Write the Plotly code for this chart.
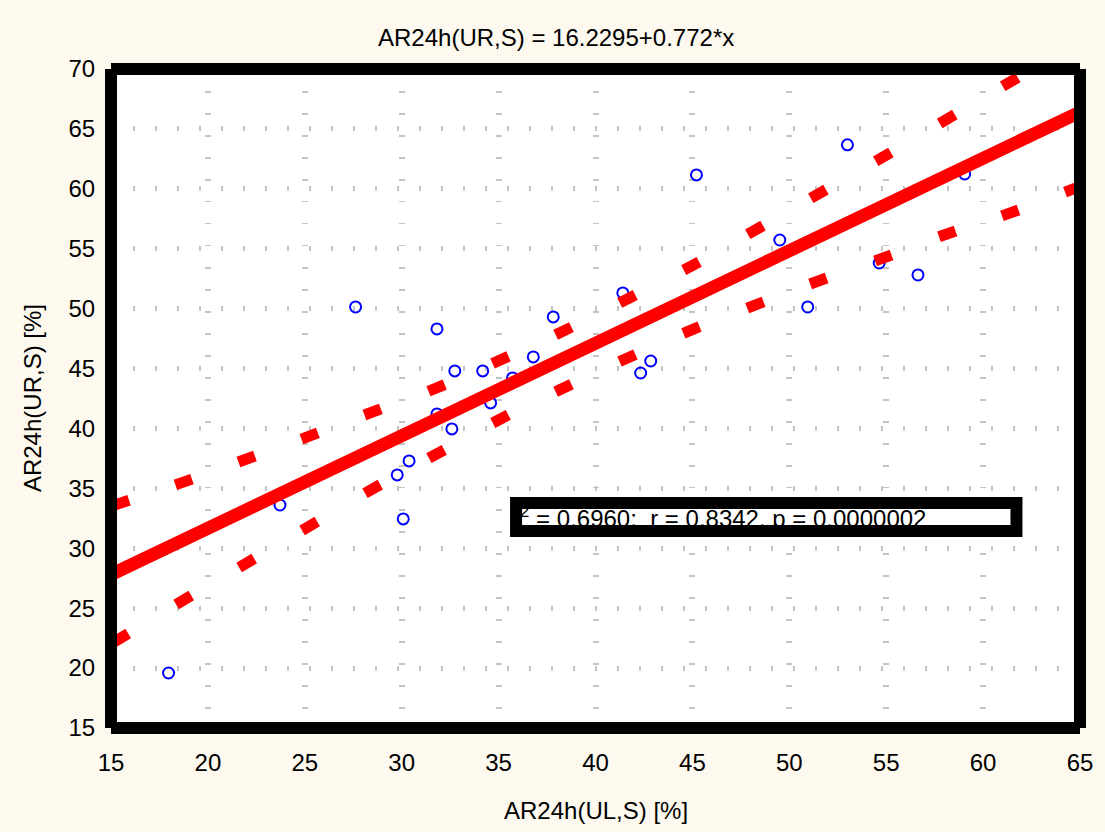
import numpy as np
import plotly.graph_objects as go

# Observations: AR24h(UL,S) vs AR24h(UR,S), in %
ul_s = [17.97, 23.72, 27.62, 29.77, 30.08, 30.38, 31.82, 31.82, 32.59, 32.74,
        34.18, 34.59, 35.72, 36.79, 37.82, 41.41, 42.33, 42.85, 45.21, 49.51,
        50.95, 53.00, 54.64, 56.64, 59.05]
ur_s = [19.59, 33.61, 50.14, 36.12, 32.45, 37.29, 48.31, 41.21, 39.96, 44.80,
        44.80, 42.13, 44.22, 45.97, 49.31, 51.31, 44.63, 45.63, 61.16, 55.73,
        50.14, 63.67, 53.81, 52.81, 61.24]

# Fitted line
intercept = 16.2295
slope = 0.772

# 95% confidence band of the fit
band_x = [15.5, 18.75, 22.0, 25.25, 28.5, 31.8, 35.1, 38.35, 41.65, 44.95,
          48.25, 51.5, 54.85, 58.15, 61.4, 64.65]
band_upper = [33.78, 35.53, 37.45, 39.37, 41.38, 43.38, 45.72, 48.14, 50.81,
              53.56, 56.57, 59.57, 62.66, 65.83, 68.92]
band_lower = [22.51, 25.68, 28.77, 31.86, 34.95, 37.87, 40.79, 43.38, 45.88,
              48.22, 50.31, 52.31, 54.23, 56.24, 57.99, 59.99]

x_ticks = list(range(15, 70, 5))
y_ticks = list(range(15, 75, 5))

stats_text = "r<sup>2</sup> = 0.6960;  r = 0.8342, p = 0.0000002"
title_text = "AR24h(UR,S) = 16.2295+0.772*x"
x_title = "AR24h(UL,S) [%]"
y_title = "AR24h(UR,S) [%]"

FONT = "Arial, Liberation Sans, sans-serif"
FS = 24
RED = "#FF0000"
BLUE = "#0000FF"
BG = "#FDF9EE"

W, H = 1105, 832
ML, MR, MT, MB = 111, 18, 69, 104
X_RANGE = [15, 65]
Y_RANGE = [15, 70]
px_per_x = (W - ML - MR) / (X_RANGE[1] - X_RANGE[0])
px_per_y = (H - MT - MB) / (Y_RANGE[1] - Y_RANGE[0])


def to_x(px):
    return X_RANGE[0] + (px - ML) / px_per_x


def to_y(py):
    return Y_RANGE[0] + (H - MB - py) / px_per_y


def dash_angles(xs, ys):
    """Screen-space orientation of each band dash, following the curve."""
    xs = np.asarray(xs[:len(ys)], float)
    ys = np.asarray(ys, float)
    g = np.gradient(ys, xs)
    return list(-np.degrees(np.arctan(g * px_per_y / px_per_x)))


fig = go.Figure()

fig.add_trace(go.Scatter(
    x=ul_s, y=ur_s, mode="markers",
    marker=dict(symbol="circle-open", size=11, color=BLUE,
                line=dict(width=2, color=BLUE)),
    showlegend=False, hoverinfo="skip"))

for ys in (band_upper, band_lower):
    fig.add_trace(go.Scatter(
        x=band_x[:len(ys)], y=ys, mode="markers",
        marker=dict(symbol="line-ew", size=12.5, color=RED,
                    angle=dash_angles(band_x, ys),
                    line=dict(width=11, color=RED)),
        showlegend=False, hoverinfo="skip"))

fit_x = np.array(X_RANGE, float)
fig.add_trace(go.Scatter(
    x=fit_x, y=intercept + slope * fit_x, mode="lines",
    line=dict(color=RED, width=13),
    showlegend=False, hoverinfo="skip"))

# statistics label inside its framed box
box_x0, box_x1 = to_x(519), to_x(1023)
box_y0, box_y1 = to_y(531), to_y(503)
fig.add_trace(go.Scatter(
    x=[to_x(515)], y=[to_y(521)],
    mode="text", text=[stats_text], textposition="middle right",
    textfont=dict(family=FONT, size=FS, color="black"),
    showlegend=False, hoverinfo="skip"))

shapes = [
    dict(type="rect", xref="x", yref="y", x0=box_x0, x1=box_x1,
         y0=box_y0, y1=box_y1, fillcolor="white",
         line=dict(width=0), layer="between"),
    dict(type="rect", xref="x", yref="y", x0=box_x0, x1=box_x1,
         y0=box_y0, y1=box_y1, fillcolor="rgba(0,0,0,0)",
         line=dict(width=12, color="black"), layer="above"),
]
# heavy plot frame
for (x0, y0, x1, y1) in [(0, 0, 1, 0), (0, 1, 1, 1), (0, 0, 0, 1), (1, 0, 1, 1)]:
    shapes.append(dict(type="line", xref="paper", yref="paper",
                       x0=x0, y0=y0, x1=x1, y1=y1,
                       line=dict(color="black", width=12), layer="above"))

grid_common = dict(showgrid=True, gridcolor="#C4C4C4", zeroline=False,
                   showline=False, ticks="outside",
                   tickcolor="rgba(0,0,0,0)",
                   tickfont=dict(family=FONT, size=FS, color="black"))

fig.update_layout(
    width=W, height=H,
    margin=dict(l=ML, r=MR, t=MT, b=MB, pad=0),
    paper_bgcolor=BG, plot_bgcolor="white",
    showlegend=False,
    shapes=shapes,
    xaxis=dict(range=X_RANGE, tickvals=x_ticks, ticklen=13,
               gridwidth=6, griddash="1.5px,20.5px", **grid_common),
    yaxis=dict(range=Y_RANGE, tickvals=y_ticks, ticklen=10,
               gridwidth=5, griddash="1.5px,20.5px", **grid_common),
    annotations=[
        dict(text=title_text, xref="paper", yref="paper",
             x=(559.5 - ML) / (W - ML - MR), y=1 + (MT - 37) / (H - MT - MB),
             xanchor="center", yanchor="middle", showarrow=False,
             font=dict(family=FONT, size=FS, color="black")),
        dict(text=x_title, xref="paper", yref="paper",
             x=0.5, y=-(810 - (H - MB)) / (H - MT - MB),
             xanchor="center", yanchor="middle", showarrow=False,
             font=dict(family=FONT, size=FS, color="black")),
        dict(text=y_title, xref="paper", yref="paper",
             x=-(ML - 32) / (W - ML - MR), y=0.5, textangle=-90,
             xanchor="center", yanchor="middle", showarrow=False,
             font=dict(family=FONT, size=FS, color="black")),
    ],
)

fig.write_html("out.html")
